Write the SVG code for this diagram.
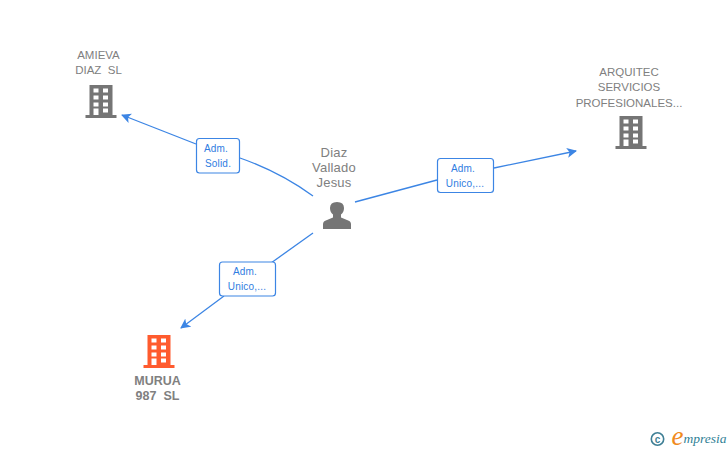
<svg xmlns="http://www.w3.org/2000/svg" width="728" height="450" viewBox="0 0 728 450">
<style>
text{font-family:"Liberation Sans",Arial,sans-serif;text-anchor:middle;white-space:pre}
.n{font-size:11.500px;fill:#808080}
.p{font-size:13px;letter-spacing:.2px;fill:#808080}
.b{font-size:12.500px;font-weight:bold;fill:#808080}
.l{font-size:10px;letter-spacing:.2px;fill:#2f7de1}
.box{fill:#fff;stroke:#3c85e4;stroke-width:1.2}
.c{fill:none;stroke:#3c85e4;stroke-width:1.3}
.w{fill:#fff}
</style>
<defs>
<marker id="a" viewBox="0 0 10 10" refX="9" refY="5" markerWidth="10" markerHeight="10" markerUnits="userSpaceOnUse" orient="auto"><path d="M0 0L10 5L0 10L2.500 5Z" fill="#3c85e4"/></marker>
<g id="bld">
<path d="M-11.500-17H11.500V13H15.500V16H-15.500V13H-11.500Z"/>
<g class="w">
<rect x="-7.500" y="-13.500" width="5" height="4"/><rect x="2" y="-13.500" width="5" height="4"/>
<rect x="-7.500" y="-6.500" width="5" height="4"/><rect x="2" y="-6.500" width="5" height="4"/>
<rect x="-7.500" y="0.500" width="5" height="4"/><rect x="2" y="0.500" width="5" height="4"/>
<rect x="-7.500" y="6.500" width="5" height="6.500"/><rect x="2" y="6.500" width="5" height="4"/>
</g>
</g>
</defs>
<g id="connectors">
<path class="c" d="M313 196Q280 172 240 158"/>
<path class="c" d="M196 144L122 115" marker-end="url(#a)"/>
<path class="c" d="M355 202L437 180"/>
<path class="c" d="M494 168L576 151" marker-end="url(#a)"/>
<path class="c" d="M313 233L271 263"/>
<path class="c" d="M224 296L181 328" marker-end="url(#a)"/>
</g>
<g id="node-amieva">
<text class="n" x="98.500" y="59">AMIEVA</text><text class="n" x="98.500" y="74">DIAZ  SL</text>
<use href="#bld" x="101" y="102" fill="#757575"/>
</g>
<g id="node-arquitec">
<text class="n" x="629" y="76">ARQUITEC</text><text class="n" x="629" y="91">SERVICIOS</text><text class="n" x="629" y="107">PROFESIONALES...</text>
<use href="#bld" x="631" y="133" fill="#757575"/>
</g>
<g id="node-murua">
<use href="#bld" x="159" y="352" fill="#ff5b2e"/>
<text class="b" x="157.500" y="385">MURUA</text><text class="b" x="157.500" y="400">987  SL</text>
</g>
<g id="node-person">
<text class="p" x="334" y="157">Diaz</text><text class="p" x="334" y="172">Vallado</text><text class="p" x="334" y="187">Jesus</text>
<path d="M323 229V224Q323 221 327 220L333 217.500V214.500Q330 212 330 208Q330 202 337 202Q344 202 344 208Q344 212 341 214.500V217.500L347 220Q351 221 351 224V229Z" fill="#757575"/>
</g>
<g id="label-solid"><rect class="box" x="196.500" y="138.500" width="43" height="34.500" rx="3"/><text class="l" x="216" y="152">Adm.</text><text class="l" x="218" y="167">Solid.</text></g>
<g id="label-unico-1"><rect class="box" x="437.500" y="158.500" width="56" height="34" rx="3"/><text class="l" x="463" y="172">Adm.</text><text class="l" x="465" y="187">Unico,...</text></g>
<g id="label-unico-2"><rect class="box" x="219.500" y="262" width="56" height="34" rx="3"/><text class="l" x="245" y="275">Adm.</text><text class="l" x="247" y="290">Unico,...</text></g>
<g id="logo">
<circle cx="657.500" cy="439" r="6.200" fill="none" stroke="#3f7f95" stroke-width="1.600"/>
<text x="657.500" y="442.500" style="font-size:10px;fill:#3f7f95;font-weight:bold">c</text>
<text x="677.500" y="445" style="font-size:27px;fill:#f08a1d;font-family:'Liberation Serif',serif;font-style:italic">e</text>
<text x="705" y="443" style="font-size:13.500px;fill:#2f7f95;font-family:'Liberation Serif',serif;font-style:italic">mpresia</text>
</g>
</svg>
